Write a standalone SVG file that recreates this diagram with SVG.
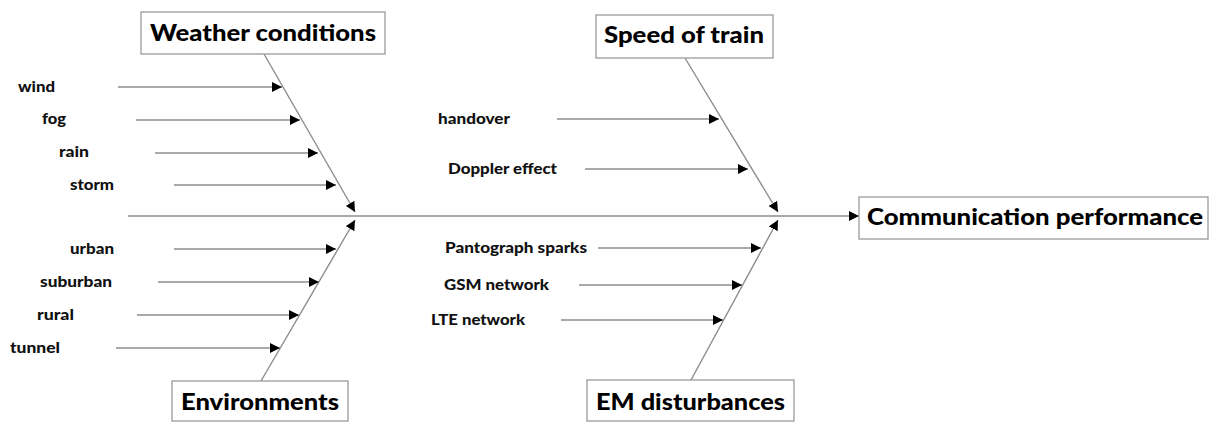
<svg xmlns="http://www.w3.org/2000/svg" width="1210" height="423" viewBox="0 0 1210 423">
  <style>
    .box { fill: #ffffff; stroke: #9a9a9a; stroke-width: 1.3; }
    .title { font-family: Lato, "Liberation Sans", sans-serif; font-weight: 900; font-size: 23px; fill: #000; }
    .lbl { font-family: Lato, "Liberation Sans", sans-serif; font-weight: 900; font-size: 15px; fill: #111; }
    .arr { stroke: #8c8c8c; stroke-width: 1.4; fill: none; marker-end: url(#head); }
  </style>
  <defs>
    <marker id="head" viewBox="0 0 10 10" refX="10" refY="5" markerWidth="10" markerHeight="10" markerUnits="userSpaceOnUse" orient="auto">
      <path d="M0,0 L10,5 L0,10 Z" fill="#000"/>
    </marker>
  </defs>
  <rect width="1210" height="423" fill="#ffffff"/>

  <g id="connectors">
    <!-- spine -->
    <line class="arr" x1="128" y1="216" x2="859" y2="216"/>
    <!-- main bones -->
    <line class="arr" x1="264" y1="54" x2="355" y2="212"/>
    <line class="arr" x1="261" y1="381" x2="355" y2="220"/>
    <line class="arr" x1="685" y1="58" x2="778" y2="212"/>
    <line class="arr" x1="691" y1="380" x2="778" y2="220"/>
    <!-- weather causes -->
    <line class="arr" x1="118" y1="87" x2="282" y2="87"/>
    <line class="arr" x1="136" y1="120" x2="300" y2="120"/>
    <line class="arr" x1="155" y1="153" x2="318" y2="153"/>
    <line class="arr" x1="174" y1="185" x2="336" y2="185"/>
    <!-- environment causes -->
    <line class="arr" x1="174" y1="249" x2="336" y2="249"/>
    <line class="arr" x1="158" y1="282" x2="319" y2="282"/>
    <line class="arr" x1="137" y1="315" x2="299" y2="315"/>
    <line class="arr" x1="116" y1="348" x2="280" y2="348"/>
    <!-- speed causes -->
    <line class="arr" x1="557" y1="119" x2="719" y2="119"/>
    <line class="arr" x1="585" y1="169" x2="748" y2="169"/>
    <!-- EM causes -->
    <line class="arr" x1="598" y1="248" x2="761" y2="248"/>
    <line class="arr" x1="579" y1="285" x2="742" y2="285"/>
    <line class="arr" x1="561" y1="320" x2="723" y2="320"/>
  </g>

  <g id="weather">
    <rect class="box" x="141" y="12" width="244" height="42"/>
    <text class="title" x="150" y="41" textLength="226" lengthAdjust="spacingAndGlyphs">Weather conditions</text>
    <text class="lbl" x="18" y="92" textLength="37" lengthAdjust="spacingAndGlyphs">wind</text>
    <text class="lbl" x="42" y="124" textLength="24" lengthAdjust="spacingAndGlyphs">fog</text>
    <text class="lbl" x="59" y="157" textLength="30" lengthAdjust="spacingAndGlyphs">rain</text>
    <text class="lbl" x="70" y="190" textLength="44" lengthAdjust="spacingAndGlyphs">storm</text>
  </g>

  <g id="environments">
    <rect class="box" x="172" y="381" width="176" height="40"/>
    <text class="title" x="181" y="410" textLength="158" lengthAdjust="spacingAndGlyphs">Environments</text>
    <text class="lbl" x="70" y="254" textLength="44" lengthAdjust="spacingAndGlyphs">urban</text>
    <text class="lbl" x="40" y="287" textLength="72" lengthAdjust="spacingAndGlyphs">suburban</text>
    <text class="lbl" x="37" y="320" textLength="37" lengthAdjust="spacingAndGlyphs">rural</text>
    <text class="lbl" x="10" y="353" textLength="50" lengthAdjust="spacingAndGlyphs">tunnel</text>
  </g>

  <g id="speed">
    <rect class="box" x="596" y="15" width="177" height="43"/>
    <text class="title" x="604" y="43" textLength="160" lengthAdjust="spacingAndGlyphs">Speed of train</text>
    <text class="lbl" x="438" y="124" textLength="72" lengthAdjust="spacingAndGlyphs">handover</text>
    <text class="lbl" x="448" y="174" textLength="109" lengthAdjust="spacingAndGlyphs">Doppler effect</text>
  </g>

  <g id="em">
    <rect class="box" x="587" y="380" width="207" height="41"/>
    <text class="title" x="596" y="410" textLength="189" lengthAdjust="spacingAndGlyphs">EM disturbances</text>
    <text class="lbl" x="445" y="253" textLength="142" lengthAdjust="spacingAndGlyphs">Pantograph sparks</text>
    <text class="lbl" x="444" y="290" textLength="105" lengthAdjust="spacingAndGlyphs">GSM network</text>
    <text class="lbl" x="431" y="325" textLength="94" lengthAdjust="spacingAndGlyphs">LTE network</text>
  </g>

  <g id="performance">
    <rect class="box" x="859" y="197" width="349" height="42"/>
    <text class="title" x="867" y="225" textLength="336" lengthAdjust="spacingAndGlyphs">Communication performance</text>
  </g>
</svg>
